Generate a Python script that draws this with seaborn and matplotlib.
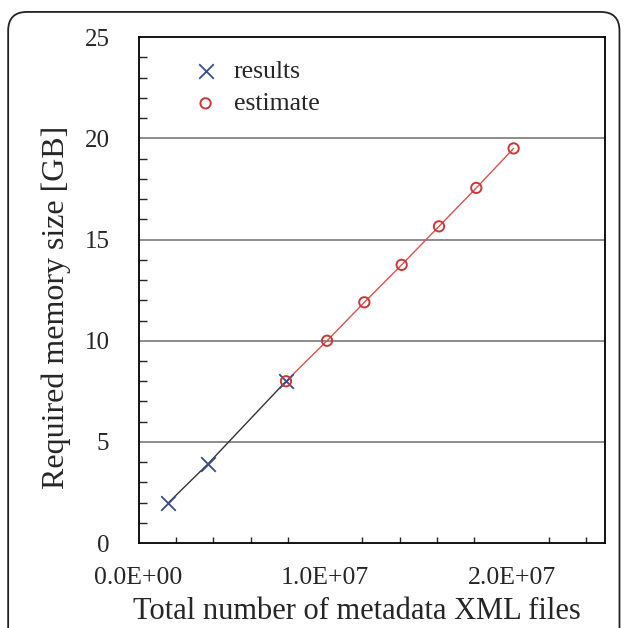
import matplotlib
matplotlib.use('Agg')
import matplotlib.pyplot as plt
import seaborn as sns
from matplotlib.patches import FancyBboxPatch
from matplotlib.ticker import MultipleLocator, FuncFormatter

# measured points
results_x = [1.6e6, 3.7e6, 7.9e6]
results_y = [2.0, 3.9, 8.0]
estimate_x = [7.9e6, 10.1e6, 12.1e6, 14.1e6, 16.1e6, 18.1e6, 20.1e6]
estimate_y = [8.0, 10.0, 11.9, 13.75, 15.65, 17.55, 19.5]

sns.set_style('white')
plt.rcParams['font.family'] = ['Liberation Serif', 'DejaVu Serif']

fig = plt.figure(figsize=(6.27, 6.28), dpi=100)
ax = fig.add_axes([0.221, 0.135, 0.744, 0.806])

# rounded frame around the figure
frame = FancyBboxPatch((0.013, -0.05), 0.975, 1.031, boxstyle='round,pad=0,rounding_size=0.03',
                       transform=fig.transFigure, fill=False, edgecolor='#222222', lw=1.3,
                       clip_on=False)
fig.patches.append(frame)

for yv in [5, 10, 15, 20]:
    ax.axhline(yv, color='#8c8c8c', lw=1.4, zorder=0)

sns.lineplot(x=results_x, y=results_y, ax=ax, color='#333333', lw=1.0, zorder=2)
sns.lineplot(x=estimate_x, y=estimate_y, ax=ax, color='#d9534f', lw=1.0, zorder=2)
sns.scatterplot(x=results_x, y=results_y, ax=ax, marker='x', s=110, color='#3a4d8f',
                linewidth=1.3, label='results', zorder=3)
sns.scatterplot(x=estimate_x, y=estimate_y, ax=ax, marker='o', s=55, facecolor='none',
                edgecolor='#c83a3a', linewidth=1.4, label='estimate', zorder=4)

ax.set_xlim(0, 2.5e7)
ax.set_ylim(0, 25)
ax.xaxis.set_major_locator(MultipleLocator(1e7))
ax.xaxis.set_minor_locator(MultipleLocator(2e6))
ax.yaxis.set_major_locator(MultipleLocator(5))
ax.yaxis.set_minor_locator(MultipleLocator(1))
ax.xaxis.set_major_formatter(FuncFormatter(lambda v, p: '%.1fE+07' % (v / 1e7) if v > 0 else '0.0E+00'))

ax.tick_params(axis='x', which='major', direction='inout', length=14, width=1.2, labelsize=18.5, pad=10)
ax.tick_params(axis='x', which='minor', direction='in', length=4.5, width=1.0, bottom=True)
ax.tick_params(axis='y', which='both', direction='in', width=1.0, left=True, labelsize=18, pad=21)
ax.tick_params(axis='y', which='major', length=0)
ax.tick_params(axis='y', which='minor', length=6)

for s in ax.spines.values():
    s.set_color('black')
    s.set_linewidth(1.3)

ax.set_xlabel('Total number of metadata XML files', fontsize=22, labelpad=6)
ax.xaxis.label.set_x(0.469)
ax.set_ylabel('Required memory size [GB]', fontsize=23, labelpad=10)
ax.yaxis.label.set_y(0.465)

ax.legend(loc='upper left', bbox_to_anchor=(0.05, 0.99), frameon=False, fontsize=18.5,
          handletextpad=0.1, labelspacing=0.35, borderaxespad=0.3)

plt.savefig('out.png', dpi=100)
plt.close()
